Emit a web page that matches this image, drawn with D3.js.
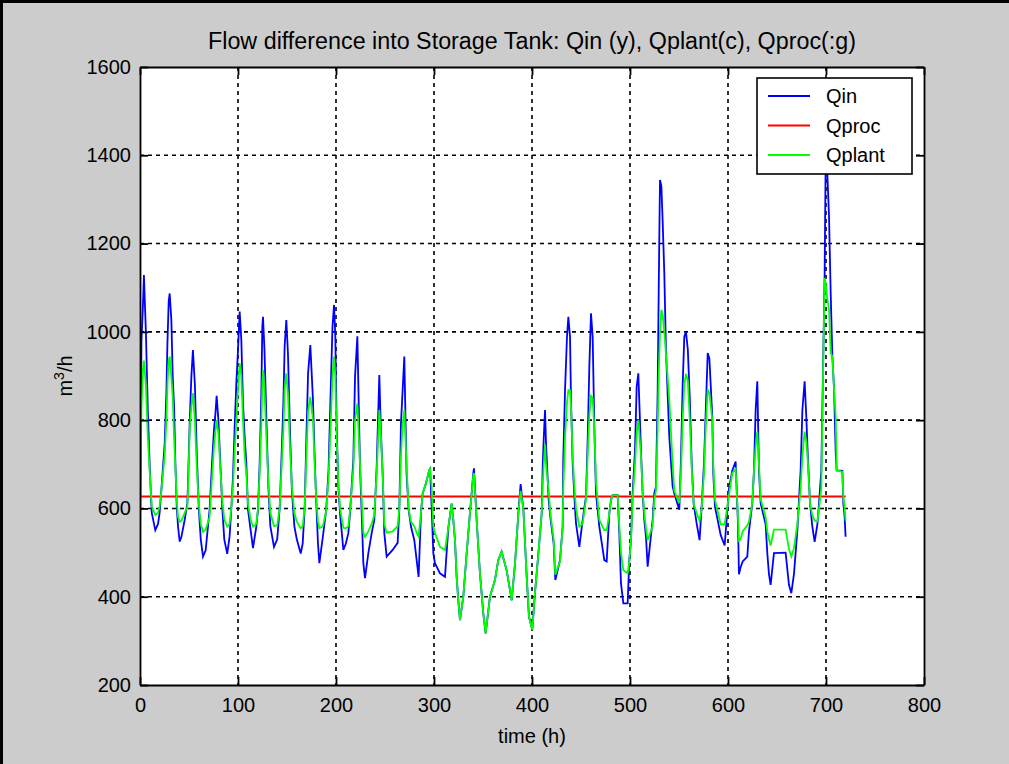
<!DOCTYPE html>
<html><head><meta charset="utf-8">
<script src="https://cdn.jsdelivr.net/npm/d3@7/dist/d3.min.js"></script>
<style>
html,body{margin:0;padding:0;background:#cccccc;overflow:hidden;}
svg{display:block;}
text{font-family:"Liberation Sans",Arial,Helvetica,sans-serif;}
</style>
</head><body>
<svg id="chart" width="1009" height="764"></svg>
<script>
// ---------------- data ----------------
const hours = [0,1.5,3,4,6,8,10,12,15.6,18.4,20,21.8,25.2,26.9,28,29.3,30.3,32,33.4,34.8,36.1,37.5,38.8,40.5,42.2,45.6,48.3,49,50.7,52.4,54,56,58,60,62,64.3,67,71,73.5,75.5,77,78.2,80,82,84,86,89,91.4,93.1,94.9,96.6,98.3,100,101.7,103.4,105.1,106.8,108.5,110.2,112.9,115.3,118.7,120.4,122.1,123.8,124.8,125.5,127,129,131,133,136.7,140,142.5,144.2,146.3,147.6,149.3,151,153,155,157.5,160,164,166,168,169.8,171.5,173.8,176.5,178.2,179.9,181.6,183,186.6,190,192.4,194.4,196.4,198,199.3,200.7,202.4,204.1,207.5,210,212.6,214.3,217.7,219.4,221.8,224.5,226.2,227.9,229.6,233,236.4,239.1,241.5,244.2,245.9,247.6,249.3,251.7,257.8,262.9,264.6,266.3,268,269.7,272,274.1,276.5,279.9,282.3,284.3,286.7,288.4,291.8,295.2,296,297.6,299.3,301,306.1,311.2,314.6,318,319.7,321.4,323.1,324.8,326.5,329.9,333.3,336.7,340.1,340.8,343.5,345.2,346.9,350.3,352.7,357.1,362.2,365.6,369,374.1,379.3,382.7,386.1,388.4,391.2,394.6,396.9,400.3,403,406.5,409.9,410.9,412,413.3,414.3,417,418.7,422.1,423.8,428.6,431.3,431.9,433.7,435.7,437.1,438.8,439.8,441.5,443.2,444.9,448.3,451.7,455.1,456.8,458.5,460.2,461.9,463.6,465.3,468.7,473.8,476.2,478.9,480.6,482.3,487.4,489.1,490.8,493.2,497.6,499.3,501,502.7,505.1,506.8,508.5,511.2,512.9,514.6,516.3,518,523.1,524.8,526.5,528.2,529.3,530.6,532,533.3,535,536.7,540.1,543.5,545.2,550.3,552,553.7,555.4,557.1,559,561,563,565,568,571,573.1,575.5,577.2,579.3,581,584,585,586.7,592.5,596.6,601,604.4,607.8,610.2,611.2,612.9,615,619.7,621.4,624.8,626.5,628.2,629.9,631.6,633.3,638.4,640.1,641.8,643.5,646.9,658.8,662.2,664.6,667.3,670.7,674.1,675.9,678.2,679.9,681.6,683.7,686,688.4,691.2,692.9,695.2,696.9,698.6,699.7,701,703.1,704.8,706.5,708.2,709.9,710.9,716.7,717.7,719,720];
const qin = [530,980,1060,1129,1000,820,690,590,551,565,590,642,747,861,975,1070,1087,1027,898,830,702,604,559,525,535,574,612,658,794,898,959,880,720,600,530,491,505,597,703,778,816,855,800,700,600,530,497,536,597,672,785,884,959,1046,982,838,762,702,597,551,510,559,597,702,861,1011,1034,960,800,650,560,513,530,600,702,838,968,1027,950,780,640,560,530,498,520,600,762,906,970,846,717,612,521,476,536,597,687,853,1011,1061,990,785,649,590,506,520,544,590,710,898,990,694,590,476,442,499,544,574,694,902,770,680,544,491,506,522,597,794,868,944,680,597,559,528,483,445,590,634,657,687,690,604,498,476,453,445,556,611,574,528,445,392,347,400,498,590,680,691,574,513,453,362,317,400,438,483,502,460,392,476,590,655,597,445,355,325,408,498,589,694,760,823,747,620,581,521,438,483,559,710,868,989,1034,989,846,702,627,566,513,574,627,755,921,1042,989,785,634,559,483,480,589,619,630,630,544,430,385,385,483,528,634,732,876,906,732,634,574,536,468,574,634,650,861,1095,1344,1330,1253,1133,959,762,650,634,597,710,876,989,1000,960,850,700,610,566,528,604,702,815,952,940,807,678,604,540,516,645,686,706,564,451,467,480,491,548,612,686,823,888,686,612,564,499,451,427,499,500,427,408,451,548,686,823,888,807,710,612,560,524,564,612,686,904,1130,1400,1380,1260,1086,944,871,726,686,685,612,581,536];
const qplant = [567,830,915,935,880,760,680,605,585,590,605,640,720,800,880,935,944,898,853,760,694,619,581,570,572,590,604,640,778,830,861,800,690,610,565,547,552,580,670,740,775,800,770,690,620,575,559,565,600,650,730,800,870,929,900,800,720,680,610,575,559,565,600,680,790,880,914,870,760,660,590,560,562,600,680,780,870,906,860,740,650,590,570,555,560,600,720,820,853,800,700,620,570,555,560,595,670,780,900,944,900,760,660,600,556,555,560,595,690,800,838,700,620,545,536,548,565,585,680,823,760,680,565,545,548,560,600,720,790,823,700,600,570,560,545,536,590,634,657,687,690,650,560,544,513,506,556,611,574,528,445,392,347,400,498,590,675,680,574,513,453,362,317,400,438,483,502,460,392,476,590,640,597,445,355,325,408,498,589,650,700,745,700,640,590,530,450,480,559,640,760,840,868,868,830,720,650,600,559,565,620,720,810,855,850,780,660,574,551,551,589,619,630,630,560,500,460,453,480,530,620,700,770,800,720,640,590,555,528,560,620,640,780,900,1000,1050,1040,1000,950,846,700,640,612,680,800,880,905,890,800,690,610,590,572,600,680,780,870,860,800,700,620,564,564,630,680,690,580,527,530,548,562,570,612,686,740,774,700,621,580,548,530,516,552,552,508,491,510,564,645,720,774,750,702,612,585,572,570,600,645,889,1122,1110,1080,1050,952,944,870,807,686,683,628,600,572];
const qprocHours = [0, 720];
const qproc = [627, 627];
const xTicks = [0,100,200,300,400,500,600,700,800];
const yTicks = [200,400,600,800,1000,1200,1400,1600];
const seriesNames = ["Qin","Qproc","Qplant"];
const seriesColors = ["#0000ff","#ff0000","#00ff00"];
const titleText = "Flow difference into Storage Tank: Qin (y), Qplant(c), Qproc(:g)";
const xLabelText = "time (h)";

// ---------------- drawing ----------------
const W = 1009, H = 764;
const L = 140, R = 924, T = 67, B = 685;
const svg = d3.select("#chart");

svg.append("rect").attr("width", W).attr("height", H).attr("fill", "#cccccc");
svg.append("rect").attr("x", 0).attr("y", 0).attr("width", W).attr("height", 3).attr("fill", "#000");
svg.append("rect").attr("x", 0).attr("y", 0).attr("width", 3).attr("height", H).attr("fill", "#000");

const x = d3.scaleLinear().domain([0, 800]).range([L, R]);
const y = d3.scaleLinear().domain([200, 1600]).range([B, T]);

svg.append("rect").attr("x", L).attr("y", T).attr("width", R - L).attr("height", B - T).attr("fill", "#fff");

// grid
const grid = svg.append("g").attr("stroke", "#000").attr("stroke-width", 1.6).attr("stroke-dasharray", "4,4");
grid.selectAll("line.gx").data(xTicks.slice(1, -1)).join("line")
  .attr("x1", d => x(d)).attr("x2", d => x(d)).attr("y1", T).attr("y2", B);
grid.selectAll("line.gy").data(yTicks.slice(1, -1)).join("line")
  .attr("x1", L).attr("x2", R).attr("y1", d => y(d)).attr("y2", d => y(d));

// clip
svg.append("clipPath").attr("id", "clip").append("rect")
  .attr("x", L).attr("y", T).attr("width", R - L).attr("height", B - T);

const line = d3.line().x(d => x(d[0])).y(d => y(d[1]));
const series = [
  d3.zip(hours, qin),
  d3.zip(qprocHours, qproc),
  d3.zip(hours, qplant)
];
const plot = svg.append("g").attr("clip-path", "url(#clip)");
series.forEach((s, i) => {
  plot.append("path").datum(s).attr("d", line)
    .attr("fill", "none").attr("stroke", seriesColors[i]).attr("stroke-width", 1.8)
    .attr("stroke-linejoin", "miter");
});

// axes
function styleAxis(g) {
  g.select(".domain").attr("stroke", "#000").attr("stroke-width", 1.8);
  g.selectAll(".tick line").attr("stroke", "#000").attr("stroke-width", 1.8);
  g.selectAll(".tick text").attr("fill", "#000").attr("font-size", 20)
    .attr("font-family", '"Liberation Sans",Arial,sans-serif');
}
svg.append("g").attr("transform", `translate(0,${B})`)
  .call(d3.axisBottom(x).tickValues(xTicks).tickSize(-8).tickSizeOuter(0).tickPadding(13).tickFormat(d3.format("d")))
  .call(styleAxis);
svg.append("g").attr("transform", `translate(0,${T})`)
  .call(d3.axisTop(x).tickValues(xTicks).tickSize(-8).tickSizeOuter(0).tickFormat(""))
  .call(styleAxis);
svg.append("g").attr("transform", `translate(${L},0)`)
  .call(d3.axisLeft(y).tickValues(yTicks).tickSize(-8).tickSizeOuter(0).tickPadding(9).tickFormat(d3.format("d")))
  .call(styleAxis);
svg.append("g").attr("transform", `translate(${R},0)`)
  .call(d3.axisRight(y).tickValues(yTicks).tickSize(-8).tickSizeOuter(0).tickFormat(""))
  .call(styleAxis);

// title & labels
svg.append("text").attr("x", (L + R) / 2).attr("y", 49).attr("text-anchor", "middle")
  .attr("font-size", 23).attr("textLength", 648).attr("lengthAdjust", "spacingAndGlyphs")
  .attr("fill", "#000").text(titleText);
svg.append("text").attr("x", (L + R) / 2).attr("y", 743).attr("text-anchor", "middle")
  .attr("font-size", 20).attr("fill", "#000").text(xLabelText);
const yl = svg.append("text").attr("transform", `translate(72,${(T + B) / 2}) rotate(-90)`)
  .attr("text-anchor", "middle").attr("font-size", 20).attr("fill", "#000");
yl.append("tspan").text("m");
yl.append("tspan").attr("font-size", 14).attr("dy", -8).text("3");
yl.append("tspan").attr("dy", 8).text("/h");

// legend
const lg = svg.append("g");
lg.append("rect").attr("x", 757).attr("y", 78).attr("width", 155).attr("height", 96)
  .attr("fill", "#fff").attr("stroke", "#000").attr("stroke-width", 1.6);
seriesNames.forEach((n, i) => {
  const yy = 96 + i * 29.5;
  lg.append("line").attr("x1", 768).attr("x2", 810).attr("y1", yy).attr("y2", yy)
    .attr("stroke", seriesColors[i]).attr("stroke-width", 1.8);
  lg.append("text").attr("x", 826).attr("y", yy).attr("dy", "0.35em")
    .attr("font-size", 20).attr("fill", "#000").text(n);
});
</script>
</body></html>
